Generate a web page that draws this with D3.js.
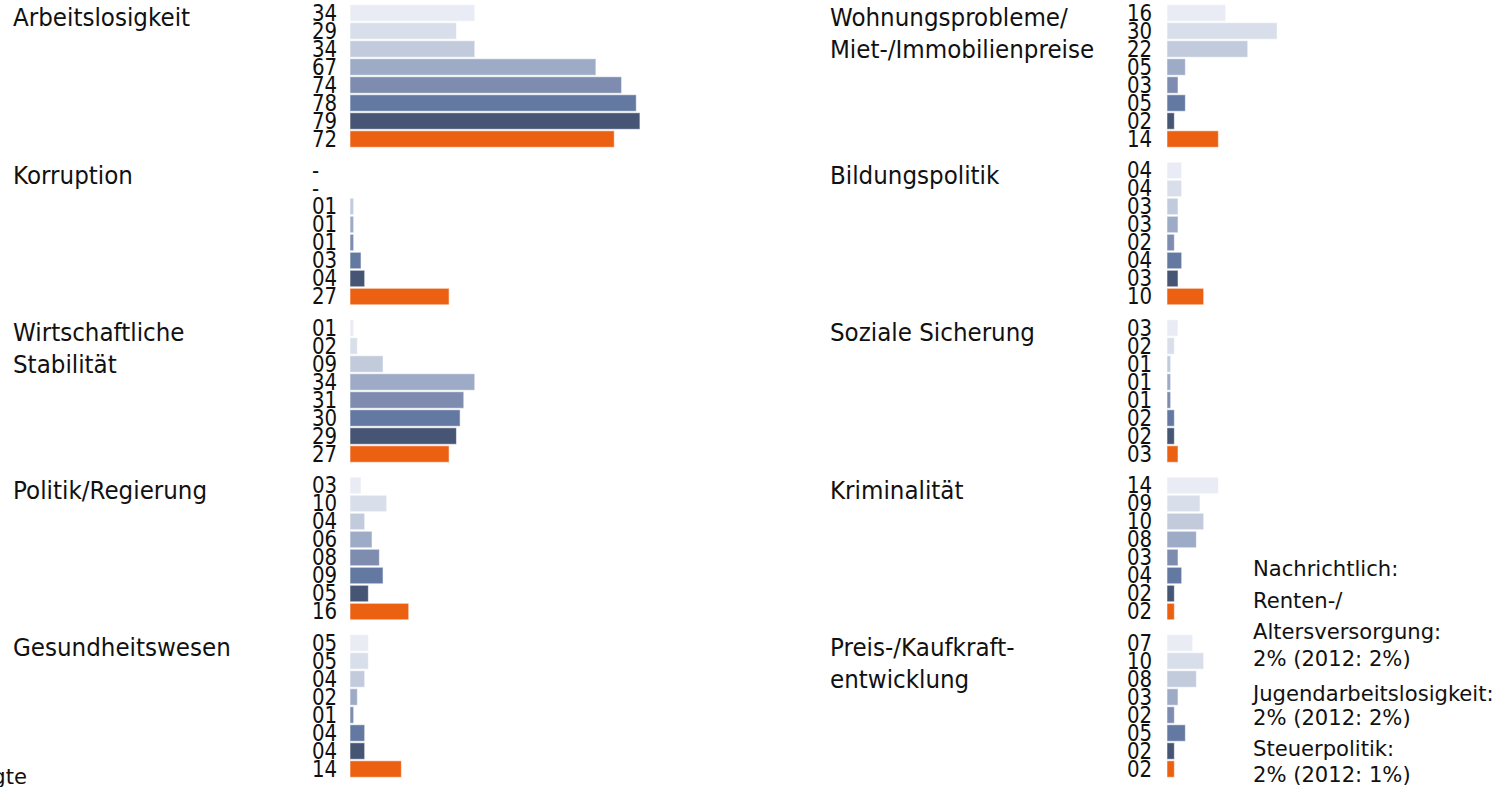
<!DOCTYPE html>
<html lang="de">
<head>
<meta charset="utf-8">
<script src="https://cdn.jsdelivr.net/npm/d3@7"></script>
<style>
  html, body { margin: 0; padding: 0; background: #fff; }
  svg { display: block; }
  text { font-family: "DejaVu Sans", Verdana, sans-serif; fill: #111; }
</style>
</head>
<body>
<svg id="chart" width="1508" height="787"></svg>
<script>
// Erhebungswellen (älteste zuerst, aktuelle Welle zuletzt)
const waves = ["w1", "w2", "w3", "w4", "w5", "w6", "w7", "w8"];
const waveColors = ["#e9ecf4", "#d9dfea", "#c2cbdc", "#9eabc7", "#7d8caf", "#6479a1", "#465574", "#ec6012"];

// Linke Spalte
const categoriesLeft = [
  ["Arbeitslosigkeit"],
  ["Korruption"],
  ["Wirtschaftliche", "Stabilität"],
  ["Politik/Regierung"],
  ["Gesundheitswesen"]
];
const valuesLeft = [
  [34, 29, 34, 67, 74, 78, 79, 72],
  [null, null, 1, 1, 1, 3, 4, 27],
  [1, 2, 9, 34, 31, 30, 29, 27],
  [3, 10, 4, 6, 8, 9, 5, 16],
  [5, 5, 4, 2, 1, 4, 4, 14]
];

// Rechte Spalte
const categoriesRight = [
  ["Wohnungsprobleme/", "Miet-/Immobilienpreise"],
  ["Bildungspolitik"],
  ["Soziale Sicherung"],
  ["Kriminalität"],
  ["Preis-/Kaufkraft-", "entwicklung"]
];
const valuesRight = [
  [16, 30, 22, 5, 3, 5, 2, 14],
  [4, 4, 3, 3, 2, 4, 3, 10],
  [3, 2, 1, 1, 1, 2, 2, 3],
  [14, 9, 10, 8, 3, 4, 2, 2],
  [7, 10, 8, 3, 2, 5, 2, 2]
];

// Zusatzhinweise
const noteLines = [
  "Nachrichtlich:",
  "Renten-/",
  "Altersversorgung:",
  "2% (2012: 2%)",
  "Jugendarbeitslosigkeit:",
  "2% (2012: 2%)",
  "Steuerpolitik:",
  "2% (2012: 1%)"
];
const footText = "Befragte";

const svg = d3.select("#chart");

const fmt = v => v == null ? "-" : d3.format("02d")(v);

// gemeinsamer Werte-Maßstab für beide Spalten
const x = d3.scaleLinear().domain([0, 100]).range([0, 367]);

// Gruppen untereinander, Zeilen innerhalb einer Gruppe
const groupY = d3.scaleBand().domain(d3.range(5)).range([4, 4 + 5 * 157.5]).paddingInner(0);
const rowY = d3.scaleBand().domain(waves).range([0, 144]).paddingInner(0.085).paddingOuter(0.04);

function drawColumn(cats, vals, o) {
  const col = svg.append("g");
  cats.forEach((lines, gi) => {
    const g = col.append("g").attr("transform", `translate(0,${groupY(gi)})`);

    // Kategorienname (ggf. zweizeilig)
    lines.forEach((ln, li) => {
      g.append("text")
        .attr("transform", `translate(${o.labelX},${22 + li * 31.5}) scale(0.96,1)`)
        .attr("font-size", 24)
        .text(ln);
    });

    const rows = waves.map((w, i) => ({ w, i, v: vals[gi][i] }));

    // Balken
    g.selectAll("rect").data(rows.filter(d => d.v != null)).join("rect")
      .attr("x", o.barX)
      .attr("y", d => rowY(d.w))
      .attr("width", d => x(d.v))
      .attr("height", rowY.bandwidth())
      .attr("fill", d => waveColors[d.i])
      .attr("stroke", "#ffffff")
      .attr("stroke-opacity", 0.55)
      .attr("stroke-width", 1);

    // Werte (linksbündig)
    g.selectAll("text.val").data(rows).join("text")
      .attr("class", "val")
      .attr("transform", d => `translate(${o.numX},${rowY(d.w) + rowY.bandwidth() / 2 + 7.8}) scale(0.88,1)`)
      .attr("font-size", 22.5)
      .text(d => fmt(d.v));
  });
}

drawColumn(categoriesLeft, valuesLeft, { labelX: 13, numX: 312, barX: 350 });
drawColumn(categoriesRight, valuesRight, { labelX: 830, numX: 1127, barX: 1167 });

// Hinweisblock unten rechts
const noteY = [576, 608, 639, 666, 701, 725, 756, 782];
svg.append("g").selectAll("text").data(noteLines).join("text")
  .attr("transform", (d, i) => `translate(1253,${noteY[i]}) scale(0.96,1)`)
  .attr("font-size", 22)
  .text(d => d);

// angeschnittene Fußzeile links unten
svg.append("text")
  .attr("transform", "translate(27,784) scale(0.96,1)")
  .attr("text-anchor", "end")
  .attr("font-size", 22)
  .text(footText);
</script>
</body>
</html>
